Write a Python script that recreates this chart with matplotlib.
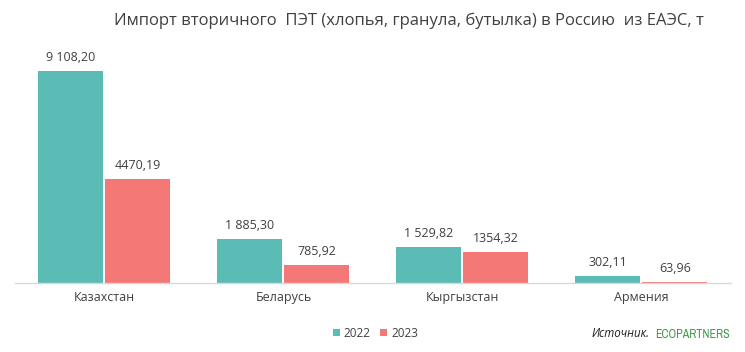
import matplotlib
matplotlib.use("Agg")
import matplotlib.pyplot as plt
from matplotlib import font_manager
import numpy as np

plt.rcParams['font.family'] = ['Open Sans', 'DejaVu Sans']

categories = ["Казахстан", "Беларусь", "Кыргызстан", "Армения"]
values_2022 = [9108.20, 1885.30, 1529.82, 302.11]
values_2023 = [4470.19, 785.92, 1354.32, 63.96]
labels_2022 = ["9 108,20", "1 885,30", "1 529,82", "302,11"]
labels_2023 = ["4470,19", "785,92", "1354,32", "63,96"]
series_names = ["2022", "2023"]

c22 = "#5BBBB5"
c23 = "#F37876"

fig = plt.figure(figsize=(7.45, 3.52), dpi=100)
ax = fig.add_axes([0.02, 0.196, 0.961, 0.66])

x = np.arange(len(categories))
w = 0.363
g = 0.006
b1 = ax.bar(x - w/2 - g, values_2022, width=w, color=c22, label=series_names[0])
b2 = ax.bar(x + w/2 + g, values_2023, width=w, color=c23, label=series_names[1])

for rect, lab in zip(b1, labels_2022):
    ax.text(rect.get_x() + rect.get_width()/2, rect.get_height() + 300, lab,
            ha='center', va='bottom', fontsize=9, color='#404040')
for rect, lab in zip(b2, labels_2023):
    ax.text(rect.get_x() + rect.get_width()/2, rect.get_height() + 300, lab,
            ha='center', va='bottom', fontsize=9, color='#404040')

ax.set_xlim(-0.5, 3.5)
ax.set_ylim(0, 10000)
ax.set_xticks(x)
ax.set_xticklabels(categories, fontsize=9, color='#404040')
ax.tick_params(axis='x', length=0, pad=6)
ax.set_yticks([])
for s in ['top', 'right', 'left']:
    ax.spines[s].set_visible(False)
ax.spines['bottom'].set_color('#D9D9D9')
ax.spines['bottom'].set_linewidth(1)

fig.text(0.549, 0.94, "Импорт вторичного  ПЭТ (хлопья, гранула, бутылка) в Россию  из ЕАЭС, т",
         ha='center', va='center', fontsize=12, color='#404040')

leg = fig.legend(handles=[b1, b2], labels=series_names, loc='center',
                 bbox_to_anchor=(0.504, 0.053), ncol=2, frameon=False,
                 fontsize=8.5, handlelength=0.6, handleheight=0.6,
                 handletextpad=0.35, columnspacing=0.8)
for t in leg.get_texts():
    t.set_color('#404040')

fig.text(0.872, 0.053, "Источник.", ha='right', va='center', fontsize=8.3,
         style='italic', color='#202020')

narrow = [f.name for f in font_manager.fontManager.ttflist if 'Narrow' in f.name]
eco_family = [narrow[0], 'DejaVu Sans'] if narrow else ['Roboto', 'DejaVu Sans']
fig.text(0.879, 0.05, "ECOPARTNERS", ha='left', va='center', fontsize=8.6,
         fontweight='bold', color='#3F9A4B', family=eco_family)

fig.savefig("out.png", dpi=100)
